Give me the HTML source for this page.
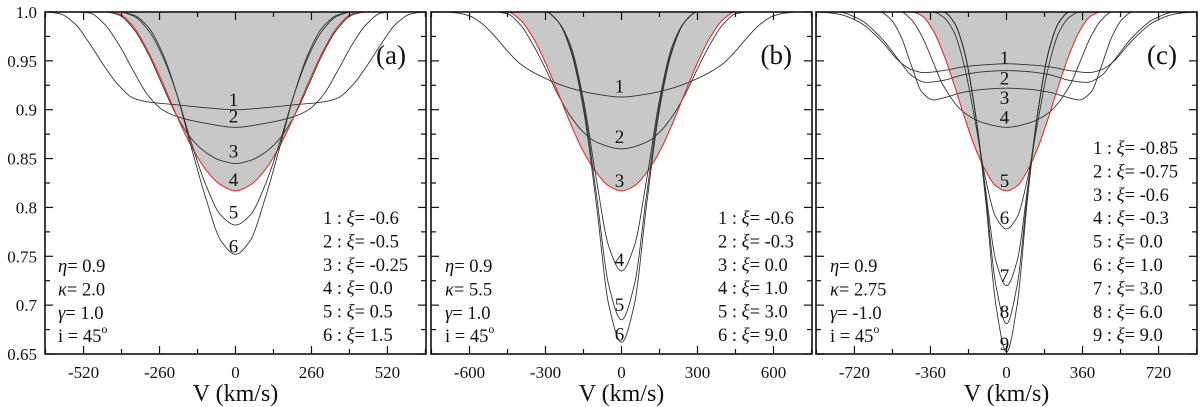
<!DOCTYPE html>
<html><head><meta charset="utf-8">
<style>
html,body{margin:0;padding:0;background:#fff;}
svg{display:block;}
svg text{font-family:"Liberation Serif","DejaVu Serif","Times New Roman",serif;}
</style></head>
<body>
<svg id="chart" width="1200" height="407" viewBox="0 0 1200 407" xmlns="http://www.w3.org/2000/svg"></svg>
<script>
// ---------- DATA ----------
// half-profile sample velocities (km/s) and normalized flux values, mirrored about V=0
const aV = [[0,100,200,300,350,400,450,500,550,600,650],
            [0,100,200,250,300,350,400,450,500,550],
            [0,50,100,150,200,250,300,350,400,450],
            [0,50,100,150,200,250,300,350,400,450],
            [0,50,100,150,200,250,300,350,400],
            [0,50,100,150,200,250,300,350,400]];
const aF = [[0.900,0.902,0.905,0.908,0.912,0.925,0.945,0.968,0.988,0.998,1.0],
            [0.882,0.886,0.893,0.900,0.915,0.940,0.967,0.988,0.999,1.0],
            [0.845,0.848,0.856,0.870,0.893,0.925,0.958,0.983,0.997,1.0],
            [0.817,0.823,0.838,0.862,0.893,0.928,0.960,0.985,0.998,1.0],
            [0.782,0.792,0.822,0.865,0.915,0.955,0.982,0.996,1.0],
            [0.752,0.766,0.808,0.860,0.915,0.958,0.985,0.997,1.0]];
const bV = [[0,100,200,300,400,450,500,550,600,650,700],
            [0,100,150,200,250,300,350,400,450,500],
            [0,50,100,150,200,250,300,350,400,450],
            [0,50,100,150,200,250,300],
            [0,50,100,150,200,250,300],
            [0,50,100,150,200,250,300]];
const bF = [[0.913,0.916,0.922,0.932,0.947,0.960,0.975,0.988,0.996,0.999,1.0],
            [0.860,0.867,0.877,0.893,0.915,0.942,0.967,0.987,0.998,1.0],
            [0.817,0.822,0.836,0.857,0.885,0.917,0.948,0.974,0.992,1.0],
            [0.735,0.760,0.830,0.910,0.965,0.990,1.0],
            [0.685,0.720,0.815,0.905,0.962,0.990,1.0],
            [0.662,0.700,0.805,0.900,0.960,0.990,1.0]];
const cV = [[0,100,200,300,390,450,500,600,700,800,900],
            [0,100,200,300,380,450,500,600,700,800],
            [0,100,200,300,345,400,450,500,550,600],
            [0,100,200,300,350,400,450,500],
            [0,50,100,150,200,250,300,350,400,450],
            [0,50,100,150,200,250,300,350],
            [0,50,100,150,200,250,300],
            [0,50,100,150,200,250,300],
            [0,50,100,150,200,250,300]];
const cF = [[0.947,0.946,0.944,0.940,0.938,0.941,0.948,0.972,0.990,0.998,1.0],
            [0.940,0.939,0.936,0.930,0.928,0.935,0.948,0.975,0.993,1.0],
            [0.922,0.921,0.918,0.912,0.910,0.918,0.945,0.975,0.993,1.0],
            [0.882,0.886,0.897,0.925,0.950,0.975,0.992,1.0],
            [0.817,0.822,0.838,0.862,0.893,0.927,0.958,0.982,0.996,1.0],
            [0.778,0.790,0.830,0.890,0.945,0.980,0.995,1.0],
            [0.720,0.745,0.820,0.900,0.960,0.990,1.0],
            [0.681,0.720,0.815,0.900,0.960,0.990,1.0],
            [0.652,0.700,0.810,0.900,0.960,0.990,1.0]];
// curve number label positions (flux units)
const aLab = [0.910,0.893,0.857,0.828,0.795,0.760];
const bLab = [0.924,0.872,0.827,0.746,0.700,0.670];
const cLab = [0.953,0.932,0.912,0.892,0.827,0.789,0.730,0.693,0.660];
const aXi = ["-0.6","-0.5","-0.25","0.0","0.5","1.5"];
const bXi = ["-0.6","-0.3","0.0","1.0","3.0","9.0"];
const cXi = ["-0.85","-0.75","-0.6","-0.3","0.0","1.0","3.0","6.0","9.0"];
const aPar = ["0.9","2.0","1.0"];
const bPar = ["0.9","5.5","1.0"];
const cPar = ["0.9","2.75","-1.0"];
const aTicks = [-520,-260,0,260,520];
const bTicks = [-600,-300,0,300,600];
const cTicks = [-720,-360,0,360,720];
const yTicks = [1.0,0.95,0.9,0.85,0.8,0.75,0.7,0.65];
const yTickLabels = ["1.0","0.95","0.9","0.85","0.8","0.75","0.7","0.65"];

// ---------- DRAW ----------
const NS="http://www.w3.org/2000/svg";
const svg=document.getElementById('chart');
function mk(tag,attrs,parent){const e=document.createElementNS(NS,tag);for(const k in attrs)e.setAttribute(k,attrs[k]);(parent||svg).appendChild(e);return e;}
const Y0=12,Y1=354,FMIN=0.65,FMAX=1.0;
function ys(f){return Y0+(FMAX-f)/(FMAX-FMIN)*(Y1-Y0);}

function monotone(xs,ys_){
  const n=xs.length,d=[],m=new Array(n);
  for(let i=0;i<n-1;i++)d.push((ys_[i+1]-ys_[i])/(xs[i+1]-xs[i]));
  m[0]=0; m[n-1]=0;
  for(let i=1;i<n-1;i++){
    if(d[i-1]*d[i]<=0)m[i]=0;
    else{const h0=xs[i]-xs[i-1],h1=xs[i+1]-xs[i];const w1=2*h1+h0,w2=h1+2*h0;m[i]=(w1+w2)/(w1/d[i-1]+w2/d[i]);}
  }
  return function(x){
    x=Math.abs(x);
    if(x>=xs[n-1])return ys_[n-1];
    let i=0;while(x>xs[i+1])i++;
    const h=xs[i+1]-xs[i],t=(x-xs[i])/h,t2=t*t,t3=t2*t;
    return (2*t3-3*t2+1)*ys_[i]+(t3-2*t2+t)*h*m[i]+(-2*t3+3*t2)*ys_[i+1]+(t3-t2)*h*m[i+1];
  };
}

const FS_LEG=18.5, FS_TICK=17, FS_TITLE=24, FS_PANEL=27, FS_NUM=19;

function panel(o){
  const g=mk('g',{});
  
  
  const L=o.left,R=o.left+381,C=(L+R)/2,K=(R-L)/(2*o.range);
  const xs=v=>C+v*K;
  const clipId='clip'+o.id;
  const cp=mk('clipPath',{id:clipId},g);mk('rect',{x:L,y:Y0,width:R-L,height:Y1-Y0},cp);
  const plot=mk('g',{'clip-path':'url(#'+clipId+')'},g);
  function pathD(i){
    const f=monotone(o.V[i],o.F[i]);
    let d="";
    for(let px=L-2;px<=R+2;px+=0.5){
      const v=(px-C)/K;
      d+=(d?" L":"M")+px.toFixed(1)+","+ys(f(v)).toFixed(2);
    }
    return d;
  }
  const rd=pathD(o.red);
  const sh=mk('path',{d:rd+" Z",fill:'#c8c8c8',stroke:'none'},plot);
  
  
  for(let i=0;i<o.V.length;i++){
    const red=i===o.red;
    const p=mk('path',{d:red?rd:pathD(i),fill:'none',stroke:red?'#e03030':'#333',"stroke-width":red?1.1:0.9},plot);
    
    
  }
  for(let i=0;i<o.lab.length;i++){
    const t=mk('text',{x:C-2,y:ys(o.lab[i])+6,'font-size':FS_NUM,'text-anchor':'middle',fill:'#111'},g);
    t.textContent=String(i+1);
    
    
  }
  const fr=mk('rect',{x:L,y:Y0,width:R-L,height:Y1-Y0,fill:'none',stroke:'#111','stroke-width':1.6},g);
  
  
  for(let f=0.65;f<=1.0001;f+=0.025){
    const maj=Math.abs(Math.round(f*20)-f*20)<1e-6;const len=maj?8:5;const y=ys(f);
    mk('line',{x1:L,x2:L+len,y1:y,y2:y,stroke:'#111','stroke-width':1.2},g);
    mk('line',{x1:R,x2:R-len,y1:y,y2:y,stroke:'#111','stroke-width':1.2},g);
  }
  const step=o.ticks[1]-o.ticks[0];
  for(let v=-Math.floor(o.range/(step/2))*(step/2);v<=o.range;v+=step/2){
    const maj=Math.abs(v%step)<1e-6;const len=maj?8:5;const x=xs(v);
    mk('line',{x1:x,x2:x,y1:Y1,y2:Y1-len,stroke:'#111','stroke-width':1.2},g);
    mk('line',{x1:x,x2:x,y1:Y0,y2:Y0+len,stroke:'#111','stroke-width':1.2},g);
  }
  o.ticks.forEach(v=>{
    const t=mk('text',{x:xs(v),y:378,'font-size':FS_TICK,'text-anchor':'middle',fill:'#111'},g);
    t.textContent=String(v);
    
    
  });
  const xt=mk('text',{x:C,y:401,'font-size':FS_TITLE,'text-anchor':'middle',fill:'#111'},g);
  xt.textContent="V (km/s)";
  
  
  const pl=mk('text',{x:R-20,y:64,'font-size':FS_PANEL,'text-anchor':'end',fill:'#111'},g);
  pl.textContent="("+o.id+")";
  
  
  const lg=mk('g',{},g);
  
  
  o.xi.forEach((s,i)=>{
    const t=mk('text',{x:o.legX,y:o.legY+i*23.4,'font-size':FS_LEG,fill:'#111'},lg);
    t.innerHTML=(i+1)+' : <tspan font-style="italic">ξ</tspan>= '+s;
    
    
  });
  const pg=mk('g',{},g);
  
  
  const sym=['η','κ','γ'];
  o.par.forEach((s,i)=>{
    const t=mk('text',{x:o.parX,y:272+i*23.4,'font-size':FS_LEG,fill:'#111'},pg);
    t.innerHTML='<tspan font-style="italic">'+sym[i]+'</tspan>= '+s;
    
    
  });
  const ti=mk('text',{x:o.parX,y:272+3*23.4,'font-size':FS_LEG,fill:'#111'},pg);
  ti.innerHTML='i = 45<tspan font-size="12" dy="-9">o</tspan>';
  
  
}

panel({id:'a',left:45,range:652,V:aV,F:aF,red:3,lab:aLab,xi:aXi,par:aPar,ticks:aTicks,legX:323,legY:224,parX:58});
panel({id:'b',left:431,range:752,V:bV,F:bF,red:2,lab:bLab,xi:bXi,par:bPar,ticks:bTicks,legX:718,legY:224,parX:445});
panel({id:'c',left:816,range:902,V:cV,F:cF,red:4,lab:cLab,xi:cXi,par:cPar,ticks:cTicks,legX:1093,legY:154,parX:830});

yTicks.forEach((f,i)=>{
  const t=mk('text',{x:37,y:ys(f)+6,'font-size':FS_TICK,'text-anchor':'end',fill:'#111'});
  t.textContent=yTickLabels[i];
  
  
});
</script>
</body></html>
